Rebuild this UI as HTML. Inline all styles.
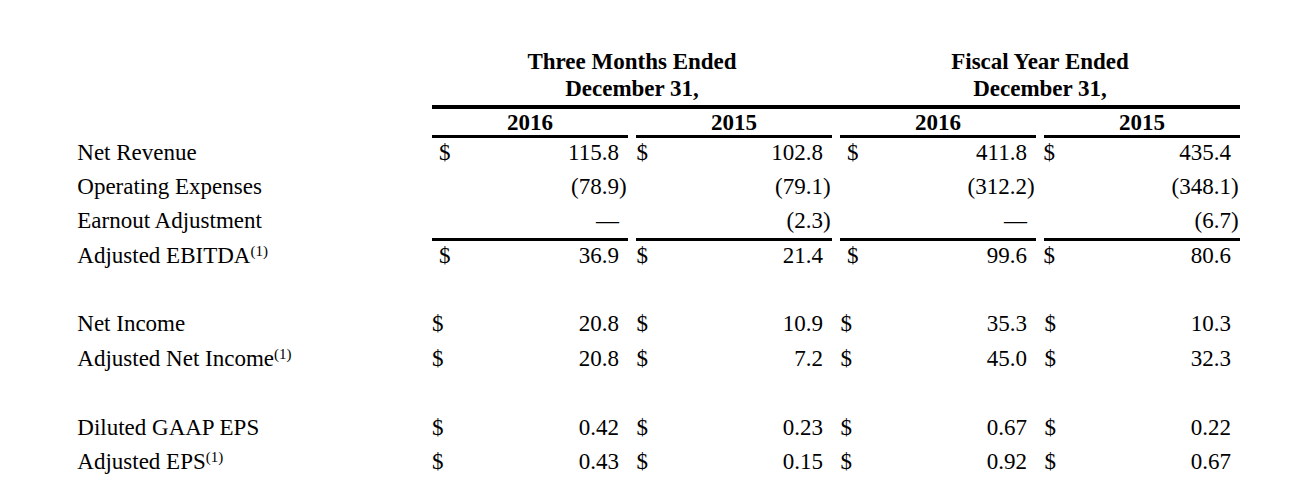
<!DOCTYPE html>
<html><head><meta charset="utf-8"><title>Financial Summary</title>
<style>
html,body{margin:0;padding:0;background:#fff;}
body{width:1313px;height:490px;position:relative;overflow:hidden;font-family:"Liberation Serif","Times New Roman",serif;font-size:23px;line-height:26px;color:#000;}
.t{position:absolute;white-space:nowrap;height:26px;}
.b{font-weight:bold;}
.c{text-align:center;}
.r{text-align:right;}
.ln{position:absolute;background:#000;}
.n{position:absolute;white-space:nowrap;height:26px;text-align:right;}
.p{position:absolute;left:100%;top:0;}
sup{font-size:15px;line-height:0;position:relative;top:-1px;vertical-align:baseline;}
.s{position:relative;top:-7px;font-size:15px;}
</style></head><body>
<div class="t b c" style="left:432px;top:49px;width:400px;">Three Months Ended</div>
<div class="t b c" style="left:432px;top:76px;width:400px;">December 31,</div>
<div class="t b c" style="left:840px;top:49px;width:400px;">Fiscal Year Ended</div>
<div class="t b c" style="left:840px;top:76px;width:400px;">December 31,</div>
<div class="t b c" style="left:432px;top:110px;width:196px;">2016</div>
<div class="t b c" style="left:636px;top:110px;width:196px;">2015</div>
<div class="t b c" style="left:840px;top:110px;width:196px;">2016</div>
<div class="t b c" style="left:1044px;top:110px;width:196px;">2015</div>
<div class="ln" style="left:432px;top:105px;width:808px;height:4px"></div>
<div class="ln" style="left:432px;top:135px;width:196px;height:3px"></div>
<div class="ln" style="left:432px;top:238px;width:196px;height:3px"></div>
<div class="ln" style="left:636px;top:135px;width:196px;height:3px"></div>
<div class="ln" style="left:636px;top:238px;width:196px;height:3px"></div>
<div class="ln" style="left:840px;top:135px;width:196px;height:3px"></div>
<div class="ln" style="left:840px;top:238px;width:196px;height:3px"></div>
<div class="ln" style="left:1044px;top:135px;width:196px;height:3px"></div>
<div class="ln" style="left:1044px;top:238px;width:196px;height:3px"></div>
<div class="t" style="left:77.3px;top:140px;">Net Revenue</div>
<div class="t" style="left:439px;top:140px;">$</div>
<div class="n" style="left:432px;width:187px;top:140px">115.8</div>
<div class="t" style="left:636.5px;top:140px;">$</div>
<div class="n" style="left:636px;width:187px;top:140px">102.8</div>
<div class="t" style="left:847px;top:140px;">$</div>
<div class="n" style="left:840px;width:187px;top:140px">411.8</div>
<div class="t" style="left:1043.5px;top:140px;">$</div>
<div class="n" style="left:1044px;width:187px;top:140px">435.4</div>
<div class="t" style="left:77.3px;top:174px;">Operating Expenses</div>
<div class="n" style="left:432px;width:187px;top:174px">(78.9<span class="p">)</span></div>
<div class="n" style="left:636px;width:187px;top:174px">(79.1<span class="p">)</span></div>
<div class="n" style="left:840px;width:187px;top:174px">(312.2<span class="p">)</span></div>
<div class="n" style="left:1044px;width:187px;top:174px">(348.1<span class="p">)</span></div>
<div class="t" style="left:77.3px;top:208px;">Earnout Adjustment</div>
<div class="n" style="left:432px;width:187px;top:208px">—</div>
<div class="n" style="left:636px;width:187px;top:208px">(2.3<span class="p">)</span></div>
<div class="n" style="left:840px;width:187px;top:208px">—</div>
<div class="n" style="left:1044px;width:187px;top:208px">(6.7<span class="p">)</span></div>
<div class="t" style="left:77.3px;top:243px;">Adjusted EBITDA<span class="s">(1)</span></div>
<div class="t" style="left:439px;top:243px;">$</div>
<div class="n" style="left:432px;width:187px;top:243px">36.9</div>
<div class="t" style="left:636.5px;top:243px;">$</div>
<div class="n" style="left:636px;width:187px;top:243px">21.4</div>
<div class="t" style="left:847px;top:243px;">$</div>
<div class="n" style="left:840px;width:187px;top:243px">99.6</div>
<div class="t" style="left:1043.5px;top:243px;">$</div>
<div class="n" style="left:1044px;width:187px;top:243px">80.6</div>
<div class="t" style="left:77.3px;top:311px;">Net Income</div>
<div class="t" style="left:432px;top:311px;">$</div>
<div class="n" style="left:432px;width:187px;top:311px">20.8</div>
<div class="t" style="left:636.5px;top:311px;">$</div>
<div class="n" style="left:636px;width:187px;top:311px">10.9</div>
<div class="t" style="left:840.5px;top:311px;">$</div>
<div class="n" style="left:840px;width:187px;top:311px">35.3</div>
<div class="t" style="left:1044.5px;top:311px;">$</div>
<div class="n" style="left:1044px;width:187px;top:311px">10.3</div>
<div class="t" style="left:77.3px;top:346px;">Adjusted Net Income<span class="s">(1)</span></div>
<div class="t" style="left:432px;top:346px;">$</div>
<div class="n" style="left:432px;width:187px;top:346px">20.8</div>
<div class="t" style="left:636.5px;top:346px;">$</div>
<div class="n" style="left:636px;width:187px;top:346px">7.2</div>
<div class="t" style="left:840.5px;top:346px;">$</div>
<div class="n" style="left:840px;width:187px;top:346px">45.0</div>
<div class="t" style="left:1044.5px;top:346px;">$</div>
<div class="n" style="left:1044px;width:187px;top:346px">32.3</div>
<div class="t" style="left:77.3px;top:415px;">Diluted GAAP EPS</div>
<div class="t" style="left:432px;top:415px;">$</div>
<div class="n" style="left:432px;width:187px;top:415px">0.42</div>
<div class="t" style="left:636.5px;top:415px;">$</div>
<div class="n" style="left:636px;width:187px;top:415px">0.23</div>
<div class="t" style="left:840.5px;top:415px;">$</div>
<div class="n" style="left:840px;width:187px;top:415px">0.67</div>
<div class="t" style="left:1044.5px;top:415px;">$</div>
<div class="n" style="left:1044px;width:187px;top:415px">0.22</div>
<div class="t" style="left:77.3px;top:449px;">Adjusted EPS<span class="s">(1)</span></div>
<div class="t" style="left:432px;top:449px;">$</div>
<div class="n" style="left:432px;width:187px;top:449px">0.43</div>
<div class="t" style="left:636.5px;top:449px;">$</div>
<div class="n" style="left:636px;width:187px;top:449px">0.15</div>
<div class="t" style="left:840.5px;top:449px;">$</div>
<div class="n" style="left:840px;width:187px;top:449px">0.92</div>
<div class="t" style="left:1044.5px;top:449px;">$</div>
<div class="n" style="left:1044px;width:187px;top:449px">0.67</div>
</body></html>
